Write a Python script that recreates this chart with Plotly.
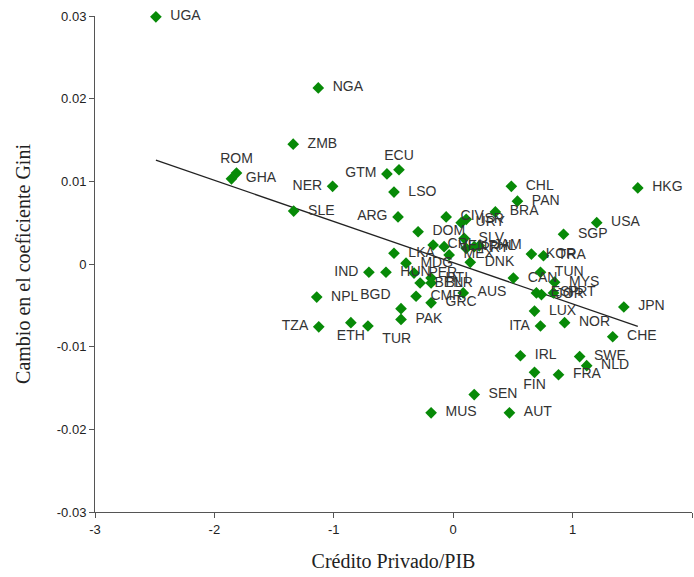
import plotly.graph_objects as go

# Country codes, private credit/GDP (x) and change in Gini coefficient (y)
countries = ["UGA", "NGA", "ZMB", "ROM", "GHA", "NER", "GTM", "ECU", "LSO", "SLE",
             "ARG", "CIV", "URY", "ISR", "CHL", "PAN", "BRA", "HKG", "USA", "SGP",
             "DOM", "CRI", "VEN", "SLV", "PRY", "PHL", "JAM", "MEX", "DNK", "LKA",
             "MDG", "HUN", "IND", "PER", "BEN", "BLR", "HTI", "CMR", "GRC", "AUS",
             "CAN", "KOR", "TRA", "TUN", "MYS", "ESP", "JOR", "PRT", "LUX", "JPN",
             "ITA", "NOR", "CHE", "IRL", "SWE", "NLD", "FIN", "FRA", "SEN", "AUT",
             "MUS", "NPL", "BGD", "PAK", "TZA", "ETH", "TUR"]
credit = [-2.49, -1.13, -1.34, -1.815, -1.857, -1.01, -0.555, -0.454, -0.496, -1.336,
          -0.462, -0.059, 0.067, 0.109, 0.487, 0.538, 0.353, 1.546, 1.202, 0.924,
          -0.294, -0.168, -0.076, 0.092, 0.109, 0.176, 0.218, -0.034, 0.143, -0.496,
          -0.395, -0.563, -0.706, -0.328, -0.277, -0.185, -0.185, -0.311, -0.185, 0.084,
          0.504, 0.655, 0.756, 0.731, 0.849, 0.697, 0.739, 0.840, 0.681, 1.429,
          0.731, 0.933, 1.336, 0.563, 1.059, 1.118, 0.681, 0.882, 0.176, 0.471,
          -0.185, -1.143, -0.437, -0.437, -1.126, -0.857, -0.714]
gini_change = [0.0299, 0.0213, 0.0145, 0.0110, 0.0103, 0.0094, 0.0109, 0.0114, 0.0087, 0.0064,
               0.0057, 0.0057, 0.0050, 0.0054, 0.0094, 0.0076, 0.0063, 0.0092, 0.0050, 0.0036,
               0.0039, 0.0023, 0.0021, 0.0031, 0.0019, 0.0021, 0.0022, 0.0011, 0.0002, 0.0013,
               0.0001, -0.0010, -0.0010, -0.0011, -0.0023, -0.0023, -0.0017, -0.0039, -0.0047, -0.0035,
               -0.0017, 0.0012, 0.0010, -0.0010, -0.0022, -0.0035, -0.0037, -0.0035, -0.0057, -0.0052,
               -0.0075, -0.0071, -0.0088, -0.0111, -0.0112, -0.0123, -0.0131, -0.0134, -0.0158, -0.0180,
               -0.0180, -0.0040, -0.0054, -0.0067, -0.0076, -0.0071, -0.0075]
label_pos = ["middle right", "middle right", "middle right", "top center", "middle right",
             "middle left", "middle left", "top center", "middle right", "middle right",
             "middle left", "middle right", "middle right", "middle right", "middle right",
             "middle right", "middle right", "middle right", "middle right", "middle right",
             "middle right", "middle right", "middle right", "middle right", "middle right",
             "middle right", "middle right", "middle right", "middle right", "middle right",
             "middle right", "middle right", "middle left", "middle right", "middle right",
             "middle right", "middle right", "middle right", "middle right", "middle right",
             "middle right", "middle right", "middle right", "middle right", "middle right",
             "middle right", "middle right", "middle right", "middle right", "middle right",
             "middle left", "middle right", "middle right", "middle right", "middle right",
             "middle right", "bottom center", "middle right", "middle right", "middle right",
             "middle right", "middle right", "top left", "middle right", "middle left",
             "bottom center", "bottom right"]

# Fitted trend line
trend_slope = -0.00498
trend_intercept = 0.00016

x_ticks = [-3, -2, -1, 0, 1, 2]
x_tick_text = ["-3", "-2", "-1", "0", "1", "2"]
y_ticks = [0.03, 0.02, 0.01, 0, -0.01, -0.02, -0.03]
y_tick_text = ["0.03", "0.02", "0.01", "0", "-0.01", "-0.02", "-0.03"]


def padded(name, pos):
    if pos.endswith("right"):
        return "\u00a0\u00a0" + name
    if pos.endswith("left"):
        return name + "\u00a0"
    return name


labels = [padded(c, p) for c, p in zip(countries, label_pos)]

fig = go.Figure()

x_line = [min(credit), max(credit)]
y_line = [trend_intercept + trend_slope * v for v in x_line]
fig.add_trace(go.Scatter(x=x_line, y=y_line, mode="lines",
                         line=dict(color="#222222", width=1.3),
                         showlegend=False, hoverinfo="skip"))

fig.add_trace(go.Scatter(
    x=credit, y=gini_change, mode="markers+text",
    text=labels, textposition=label_pos,
    textfont=dict(family="Liberation Sans, Arial, sans-serif", size=14, color="#333333"),
    marker=dict(symbol="diamond", size=9, color="#078a07"),
    showlegend=False, cliponaxis=False))

axis_common = dict(showgrid=False, zeroline=False, showline=True, linecolor="#555555",
                   linewidth=1, ticks="outside", ticklen=5, tickcolor="#555555",
                   tickfont=dict(family="Liberation Sans, Arial, sans-serif", size=13, color="#222222"))

fig.update_xaxes(range=[-3, 2], tickvals=x_ticks, ticktext=x_tick_text,
                 title=dict(text="Crédito Privado/PIB", standoff=18,
                            font=dict(family="Liberation Serif, Times New Roman, serif", size=20, color="#222222")),
                 **axis_common)
fig.update_yaxes(range=[-0.03, 0.03], tickvals=y_ticks, ticktext=y_tick_text,
                 title=dict(text="Cambio en el coeficiente Gini", standoff=20,
                            font=dict(family="Liberation Serif, Times New Roman, serif", size=20, color="#222222")),
                 **axis_common)

fig.update_layout(width=694, height=577, margin=dict(l=95, r=2, t=16, b=65),
                  plot_bgcolor="white", paper_bgcolor="white")

fig.write_html("out.html")
